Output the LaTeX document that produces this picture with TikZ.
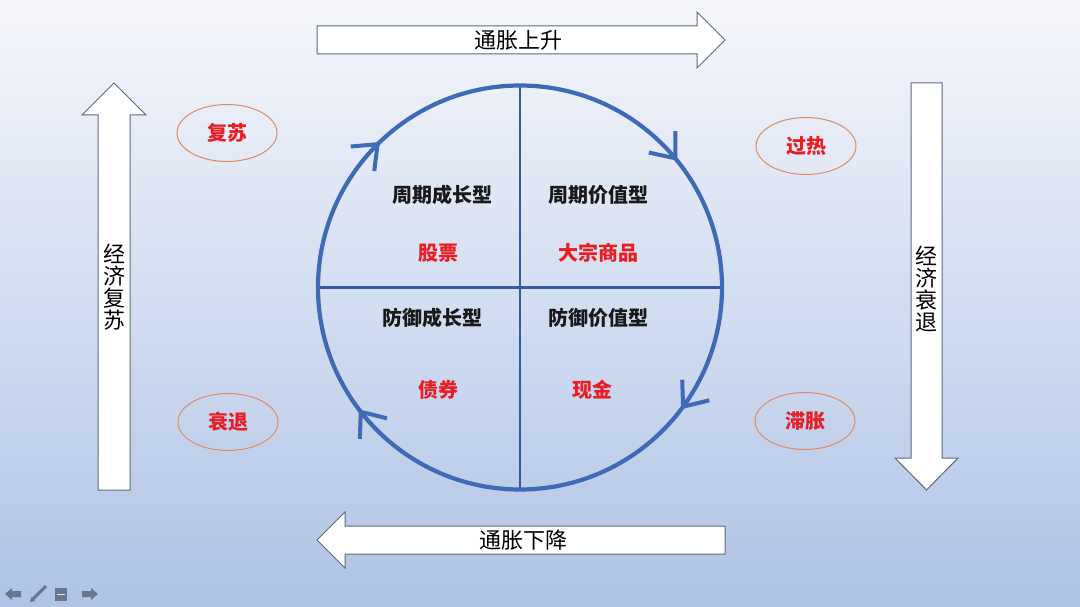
\documentclass[tikz,border=0pt]{standalone}
\usepackage{fontspec}
\setmainfont{Noto Sans CJK SC}
\usetikzlibrary{arrows.meta,decorations.markings,shapes.geometric}
\definecolor{bgtop}{RGB}{246,247,251}
\definecolor{bgmid}{RGB}{210,221,240}
\definecolor{bgbot}{RGB}{176,195,229}
\definecolor{cblue}{RGB}{62,106,182}
\definecolor{dblue}{RGB}{55,90,155}
\definecolor{redtxt}{RGB}{232,30,36}
\definecolor{ellc}{RGB}{222,140,100}
\definecolor{arrowedge}{RGB}{95,105,125}
\definecolor{icon}{RGB}{105,118,140}
\begin{document}
\begin{tikzpicture}[x=1pt,y=-1pt,
  bigarrow/.style={draw=arrowedge, fill=white, line width=1pt, line join=miter},
  arrowtxt/.style={font=\fontsize{22}{22}\selectfont, text=black, inner sep=0},
  vtxt/.style={font=\fontsize{22}{22}\selectfont, text=black, inner sep=0, align=center},
  quadtxt/.style={font=\fontsize{20}{20}\selectfont\bfseries, text=black!90, inner sep=0},
  asset/.style={font=\fontsize{20}{20}\selectfont\bfseries, text=redtxt, inner sep=0},
  phase/.style={ellipse, draw=ellc, line width=1pt, minimum width=100pt, minimum height=57pt, inner sep=0, font=\fontsize{20}{20}\selectfont\bfseries, text=redtxt},
  cyctip/.tip={Straight Barb[length=21pt,width=34pt,line width=4pt]}
]
\useasboundingbox (0,0) rectangle (1080,607);
\shade[top color=bgtop, bottom color=bgbot, middle color=bgmid] (0,0) rectangle (1080,607);

% big arrows
\draw[bigarrow] (317,26) -- (697,26) -- (697,12) -- (725,40) -- (697,68) -- (697,54) -- (317,54) -- cycle;
\node[arrowtxt] (up) at (518,40) {通胀上升};
\draw[bigarrow] (725,526) -- (345,526) -- (345,512) -- (317,540) -- (345,568) -- (345,554) -- (725,554) -- cycle;
\node[arrowtxt] (down) at (523,540) {通胀下降};
\draw[bigarrow] (98,490) -- (98,115) -- (82,115) -- (114,83) -- (146,115) -- (130,115) -- (130,490) -- cycle;
\node[vtxt] (rec) at (114,287) {经\\济\\复\\苏};
\draw[bigarrow] (911,83) -- (911,458) -- (895,458) -- (926.5,490) -- (958,458) -- (942,458) -- (942,83) -- cycle;
\node[vtxt] (dec) at (926.5,289) {经\\济\\衰\\退};

% phases
\node[phase] (p1) at (227,133) {复苏};
\node[phase] (p2) at (806,146) {过热};
\node[phase] (p3) at (228,422) {衰退};
\node[phase] (p4) at (805,421) {滞胀};

% cycle
\node[circle, minimum size=404pt, inner sep=0, outer sep=0] (C) at (520,287.5) {};
\draw[dblue, line width=2.2pt] (C.north) -- (C.south);
\draw[dblue, line width=2.2pt] (C.west) -- (C.east);
\draw[cblue, line width=4.2pt, postaction={decorate}, decoration={markings,
   mark=at position 0.128 with {\arrow{cyctip}},
   mark=at position 0.392 with {\arrow{cyctip}},
   mark=at position 0.603 with {\arrow{cyctip}},
   mark=at position 0.897 with {\arrow{cyctip}}}]
   (C.west) arc[start angle=180, end angle=540, radius=202];

\node[quadtxt] (q1) at (442,195) {周期成长型};
\node[quadtxt] (q2) at (598,195) {周期价值型};
\node[asset] (a1) at (438,253) {股票};
\node[asset] (a2) at (598,253) {大宗商品};
\node[quadtxt] (q3) at (432,318) {防御成长型};
\node[quadtxt] (q4) at (598,318) {防御价值型};
\node[asset] (a3) at (438,390) {债券};
\node[asset] (a4) at (592,390) {现金};

% slide nav icons
\fill[icon] (5,594) -- (12,588) -- (12,591) -- (21,591) -- (21,597) -- (12,597) -- (12,600) -- cycle;
\draw[icon, line width=3pt] (33,599) -- (46,586);
\fill[icon] (30,602) -- (31,597) -- (35,601) -- cycle;
\fill[icon] (55,588) rectangle (67,601);
\draw[white!80!icon, line width=1pt] (57,594) -- (65,594);
\fill[icon] (98,594) -- (91,588) -- (91,591) -- (82,591) -- (82,597) -- (91,597) -- (91,600) -- cycle;
\end{tikzpicture}
\end{document}
